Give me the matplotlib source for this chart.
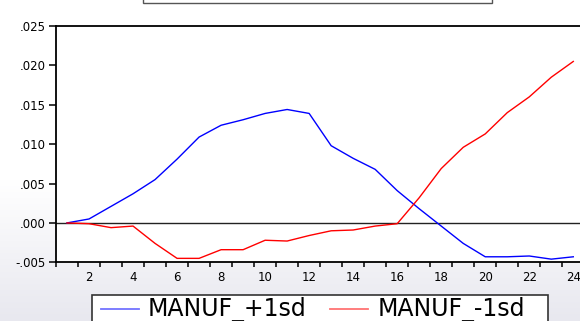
import numpy as np
import matplotlib
matplotlib.use("Agg")
import matplotlib.pyplot as plt
from matplotlib.lines import Line2D
from matplotlib.patches import Rectangle
from matplotlib.ticker import FuncFormatter, FixedLocator

periods = list(range(1, 25))
manuf_plus = [0.0000, 0.0005, 0.0021, 0.0037, 0.0055, 0.0081, 0.0109, 0.0124,
              0.0131, 0.0139, 0.0144, 0.0139, 0.0098, 0.0082, 0.0068, 0.0041,
              0.0018, -0.0004, -0.0026, -0.0043, -0.0043, -0.0042, -0.0046, -0.0043]
manuf_minus = [0.0000, -0.0001, -0.0006, -0.0004, -0.0026, -0.0045, -0.0045, -0.0034,
               -0.0034, -0.0022, -0.0023, -0.0016, -0.0010, -0.0009, -0.0004, -0.0001,
               0.0032, 0.0069, 0.0096, 0.0113, 0.0140, 0.0160, 0.0185, 0.0205]
series_labels = ["MANUF_+1sd", "MANUF_-1sd"]
series_colors = ["#0000FF", "#FF0000"]
y_ticks = [-0.005, 0.000, 0.005, 0.010, 0.015, 0.020, 0.025]
x_labels = list(range(2, 25, 2))

W, H = 580, 321
fig = plt.figure(figsize=(W / 100, H / 100), dpi=100)
fig.patch.set_facecolor("white")

# background gradient
bg = fig.add_axes([0, 0, 1, 1], zorder=-10)
bg.axis("off")
rows = np.linspace(0, 1, H)  # top -> bottom
t = np.clip((rows * H - 180) / (H - 180), 0, 1)
top = np.array([1.0, 1.0, 1.0])
bot = np.array([232, 232, 239]) / 255
grad = top[None, :] * (1 - t[:, None]) + bot[None, :] * t[:, None]
img = np.repeat(grad[:, None, :], 4, axis=1)
bg.imshow(img, aspect="auto", extent=[0, 1, 0, 1], origin="upper")
bg.set_xlim(0, 1)
bg.set_ylim(0, 1)

def fx(px):
    return px / W

def fy(py):
    return 1 - py / H

left_px, right_px, top_px, bot_px = 56, 584.3, 26, 262.3
ax = fig.add_axes([fx(left_px), fy(bot_px), fx(right_px - left_px), (bot_px - top_px) / H])
ax.set_facecolor("white")

ax.plot(periods, manuf_plus, color=series_colors[0], lw=1.0, zorder=3)
ax.plot(periods, manuf_minus, color=series_colors[1], lw=1.0, zorder=3)
ax.axhline(0, color="#222222", lw=1.0, zorder=2)

ax.set_xlim(0.5, 24.5)
ax.set_ylim(-0.005, 0.025)

for s in ["left", "top", "bottom"]:
    ax.spines[s].set_linewidth(1.3)
    ax.spines[s].set_color("black")
ax.spines["right"].set_visible(False)

ax.yaxis.set_major_locator(FixedLocator(y_ticks))
def yfmt(v, pos):
    s = f"{v:.3f}"
    s = s.replace("0.", ".")
    if s == "-.000":
        s = ".000"
    return s
ax.yaxis.set_major_formatter(FuncFormatter(yfmt))
ax.tick_params(axis="y", direction="out", length=5, width=1.1, pad=2.5,
               labelsize=8.5, colors="black")

ax.xaxis.set_major_locator(FixedLocator(x_labels))
ax.xaxis.set_minor_locator(FixedLocator(np.arange(0.5, 25, 1.0)))
ax.tick_params(axis="x", which="major", length=0, pad=6, labelsize=8.5)
ax.tick_params(axis="x", which="minor", direction="out", length=3.6, width=1.1)

for lbl in ax.get_xticklabels() + ax.get_yticklabels():
    lbl.set_family("DejaVu Sans")

# title-box remnant at top
fig.patches.append(Rectangle((fx(143), fy(2.7)), fx(492 - 143), 0.05,
                             transform=fig.transFigure, facecolor="white",
                             edgecolor="#555555", lw=1.0, zorder=5))

# legend box (manual, cropped at bottom)
fig.patches.append(Rectangle((fx(92), fy(340)), fx(548 - 92), (340 - 295) / H,
                             transform=fig.transFigure, facecolor="white",
                             edgecolor="#333333", lw=1.2, zorder=5))
leg_y = fy(309)
handles = [(101, 139, 148), (330, 368, 378)]
for (x0, x1, xt), lab, col in zip(handles, series_labels, series_colors):
    fig.lines.append(Line2D([fx(x0), fx(x1)], [leg_y, leg_y], transform=fig.transFigure,
                            color=col, lw=1.3, alpha=0.55, zorder=6))
    fig.text(fx(xt), leg_y, lab, fontsize=17, family="DejaVu Sans",
             va="center", ha="left", color="black", zorder=6)

fig.savefig("out.png", dpi=100)
